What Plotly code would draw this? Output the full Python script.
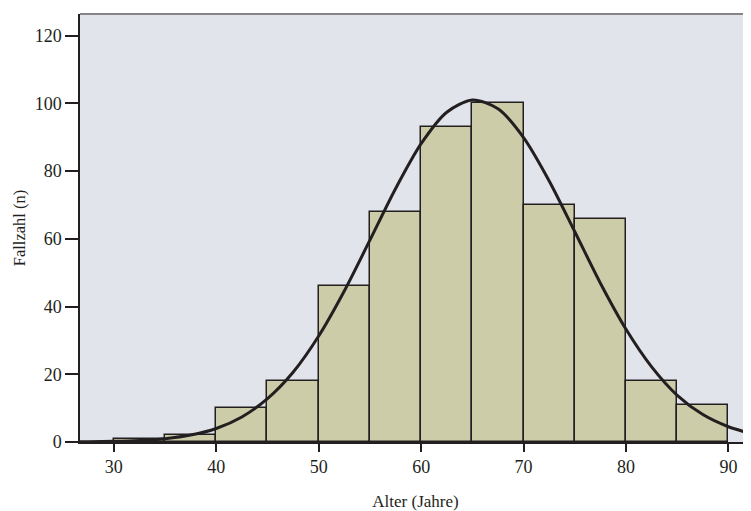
import plotly.graph_objects as go

# Histogram data (age bins of width 5)
bin_starts = [30, 35, 40, 45, 50, 55, 60, 65, 70, 75, 80, 85]
counts = [1, 2, 10, 18, 46, 68, 93, 100, 70, 66, 18, 11]
bin_width = 5

# Fitted normal curve
curve_x = [26.7, 27.5, 30, 32.5, 35, 37.5, 40, 42.5, 45, 47.5, 50, 52.5, 55, 57.5,
           60, 62.5, 65, 67.5, 70, 72.5, 75, 77.5, 80, 82.5, 85, 87.5, 90, 92.2]
curve_y = [0.05, 0.08, 0.19, 0.45, 0.99, 2.06, 4.0, 7.4, 12.8, 20.6, 31.3, 44.6, 59.6, 74.8,
           88.1, 97.4, 101.0, 98.4, 89.9, 77.1, 62.1, 46.9, 33.3, 22.2, 13.8, 8.1, 4.5, 2.5]

x_ticks = [30, 40, 50, 60, 70, 80, 90]
y_ticks = [0, 20, 40, 60, 80, 100, 120]

fig = go.Figure()
fig.add_trace(go.Bar(
    x=[s + bin_width / 2 for s in bin_starts],
    y=counts,
    width=[bin_width] * len(counts),
    marker=dict(color="#cccca9", line=dict(color="#231f20", width=1.5)),
    showlegend=False,
    hoverinfo="skip",
))
fig.add_trace(go.Scatter(
    x=curve_x, y=curve_y, mode="lines",
    line=dict(color="#231f20", width=3, shape="spline", smoothing=0.8),
    showlegend=False,
))

font = "Liberation Serif, Times New Roman, serif"
# page body has an 8px margin, so the figure is sized/offset to compensate
fig.update_layout(
    width=743, height=503,
    margin=dict(l=72, r=0, t=6, b=63),
    paper_bgcolor="white",
    plot_bgcolor="#e1e4ea",
    font=dict(family=font, size=18, color="#231f20"),
    bargap=0,
    xaxis=dict(
        range=[26.7, 92.2],
        tickvals=x_ticks,
        ticks="outside", ticklen=8, tickwidth=1.5, tickcolor="#231f20",
        showline=True, linecolor="#231f20", linewidth=1.5,
        showgrid=False, zeroline=False,
        title=dict(text="Alter (Jahre)", font=dict(size=17), standoff=22),
        tickfont=dict(size=18),
    ),
    yaxis=dict(
        range=[0, 126.4],
        tickvals=y_ticks,
        ticks="outside", ticklen=13, tickwidth=1.5, tickcolor="#231f20",
        showline=True, linecolor="#231f20", linewidth=1.5,
        showgrid=False, zeroline=False,
        title=dict(text="Fallzahl (n)", font=dict(size=16.5), standoff=5),
        tickfont=dict(size=18),
    ),
    shapes=[dict(type="line", xref="paper", yref="paper", x0=0, x1=1, y0=1, y1=1,
                 line=dict(color="#858585", width=2))],
)

fig.write_html("out.html")
